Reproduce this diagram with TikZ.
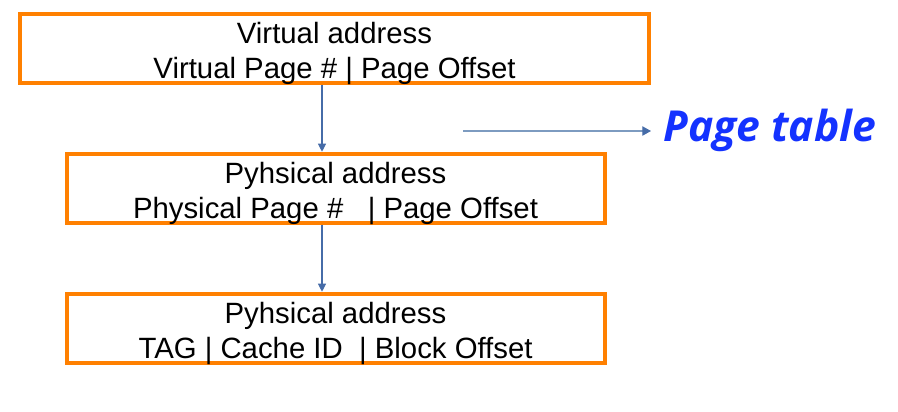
\documentclass[tikz,border=0pt]{standalone}
\usepackage{fontspec}
\setmainfont{Liberation Sans}
\newfontfamily\ptfont{Open Sans}
\usetikzlibrary{arrows.meta}
\definecolor{boxorange}{RGB}{255,128,0}
\definecolor{arrowblue}{RGB}{70,108,168}
\definecolor{lineblue}{RGB}{125,155,192}
\definecolor{ptblue}{RGB}{20,50,255}

\begin{document}
\begin{tikzpicture}[x=0.75pt, y=-0.75pt,
    addrbox/.style={draw=boxorange, line width=3pt, align=center, inner sep=0pt,
        text height=45.75pt, text depth=0pt, minimum height=51.75pt,
        font=\fontsize{22}{26.5}\selectfont},
    flow/.style={draw=arrowblue, line width=0.8pt, -{Triangle[length=6pt, width=6pt]}}]
\useasboundingbox (0,0) rectangle (898,411);
\node[addrbox, minimum width=471.75pt] (va) at (334.5,48.4)
    {Virtual address\\Virtual Page \# | Page Offset};
\node[addrbox, minimum width=403.5pt] (pa) at (335.5,188.2)
    {Pyhsical address\\Physical Page \#~~~| Page Offset};
\node[addrbox, minimum width=403.5pt] (ca) at (335.5,328.2)
    {Pyhsical address\\TAG | Cache ID~~| Block Offset};
\draw[flow] (va.south -| 322,0) -- (pa.north -| 322,0);
\draw[flow] (pa.south -| 322,0) -- (ca.north -| 322,0);
\node[anchor=base west, inner xsep=9pt, inner ysep=0pt, text=ptblue,
    font=\ptfont\bfseries\itshape\fontsize{32}{36}\selectfont] (pt) at (651,141.7) {Page table};
\coordinate (ptfrom) at (463,131);
\draw[lineblue, line width=0.8pt, -{Triangle[length=6.5pt, width=7pt, color=arrowblue]}] (ptfrom) -- (ptfrom -| pt.west);
\end{tikzpicture}
\end{document}
